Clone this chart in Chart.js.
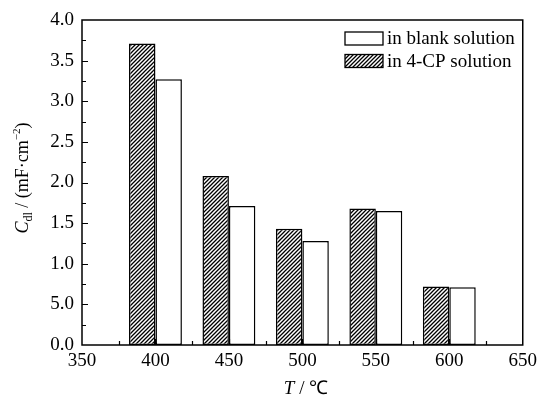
<!DOCTYPE html>
<html>
<head>
<meta charset="utf-8">
<script src="https://cdn.jsdelivr.net/npm/chart.js@4.4.1/dist/chart.umd.min.js"></script>
<style>
html,body{margin:0;padding:0;background:#fff;}
#wrap{width:542px;height:396px;position:relative;}
</style>
</head>
<body>
<div id="wrap"><canvas id="c" width="542" height="396"></canvas></div>
<script>
// ---- data ----
const temperatures = [400, 450, 500, 550, 600];
const cdl4CP   = [3.71, 2.08, 1.43, 1.68, 0.72];   // in 4-CP solution (hatched)
const cdlBlank = [3.27, 1.71, 1.28, 1.65, 0.71];   // in blank solution (white)
const yTickLabels = ['0.0', '5.0', '1.0', '1.5', '2.0', '2.5', '3.0', '3.5', '4.0'];
const seriesLabels = ['in 4-CP solution', 'in blank solution'];

const FONT = "'Liberation Serif', 'Times New Roman', serif";

function makeHatch() {
  const s = 4;
  const c = document.createElement('canvas');
  c.width = s; c.height = s;
  const g = c.getContext('2d');
  g.fillStyle = '#fff'; g.fillRect(0, 0, s, s);
  g.strokeStyle = '#000'; g.lineWidth = 1.3;
  g.beginPath();
  g.moveTo(0, s); g.lineTo(s, 0);
  g.moveTo(-s/2, s/2); g.lineTo(s/2, -s/2);
  g.moveTo(s/2, s*1.5); g.lineTo(s*1.5, s/2);
  g.stroke();
  return g.createPattern(c, 'repeat');
}
const hatch = makeHatch();

const framePlugin = {
  id: 'frame',
  afterDraw(chart) {
    const ctx = chart.ctx;
    const a = chart.chartArea;
    const xs = chart.scales.x, ys = chart.scales.y;
    ctx.save();
    ctx.strokeStyle = '#000';
    ctx.lineWidth = 1.5;
    ctx.strokeRect(a.left, a.top, a.right - a.left, a.bottom - a.top);
    ctx.lineWidth = 1.2;
    ctx.beginPath();
    // y ticks (inward) every 0.25
    for (let v = 0.25; v < 4; v += 0.25) {
      const y = Math.round(ys.getPixelForValue(v)) + 0.5;
      const major = Math.abs(v / 0.5 - Math.round(v / 0.5)) < 1e-6;
      ctx.moveTo(a.left, y); ctx.lineTo(a.left + (major ? 6 : 4), y);
    }
    // x ticks (inward) every 25
    for (let v = 375; v < 650; v += 25) {
      const x = Math.round(xs.getPixelForValue(v)) + 0.5;
      const major = v % 50 === 0;
      ctx.moveTo(x, a.bottom); ctx.lineTo(x, a.bottom - (major ? 6 : 4));
    }
    ctx.stroke();

    // legend (inside, top right)
    ctx.font = '19px ' + FONT;
    ctx.fillStyle = '#000';
    ctx.textBaseline = 'middle';
    ctx.textAlign = 'left';
    const entries = [
      {label: chart.data.datasets[1].label, fill: '#fff'},
      {label: chart.data.datasets[0].label, fill: hatch}
    ];
    entries.forEach((e, i) => {
      const yc = 38.5 + i * 22.5;
      const bx = 345, bw = 38, bh = 13;
      ctx.fillStyle = e.fill;
      ctx.fillRect(bx, yc - bh / 2, bw, bh);
      ctx.lineWidth = 1.3;
      ctx.strokeRect(bx, yc - bh / 2, bw, bh);
      ctx.fillStyle = '#000';
      ctx.fillText(e.label, 387, yc + 1);
    });

    // y-axis title (rotated, with subscript/superscript)
    ctx.save();
    ctx.translate(22, 178);
    ctx.rotate(-Math.PI / 2);
    ctx.textBaseline = 'alphabetic';
    const parts = [
      {t: 'C', f: 'italic 18px ' + FONT, dy: 0},
      {t: 'dl', f: '12px ' + FONT, dy: 4},
      {t: ' / (mF·cm', f: '18px ' + FONT, dy: 0},
      {t: '−2', f: '11px ' + FONT, dy: -8},
      {t: ')', f: '18px ' + FONT, dy: 0}
    ];
    let total = 0;
    parts.forEach(p => { ctx.font = p.f; p.w = ctx.measureText(p.t).width; total += p.w; });
    let x = -total / 2;
    parts.forEach(p => { ctx.font = p.f; ctx.fillText(p.t, x, 6 + p.dy); x += p.w; });
    ctx.restore();

    // x-axis title
    ctx.textBaseline = 'alphabetic';
    const xparts = [
      {t: 'T', f: 'italic 19px ' + FONT},
      {t: ' / ℃', f: '19px ' + FONT}
    ];
    total = 0;
    xparts.forEach(p => { ctx.font = p.f; p.w = ctx.measureText(p.t).width; total += p.w; });
    x = 306 - total / 2;
    xparts.forEach(p => { ctx.font = p.f; ctx.fillText(p.t, x, 394); x += p.w; });
    ctx.restore();
  }
};

Chart.defaults.font.family = FONT;
Chart.defaults.color = '#000';

new Chart(document.getElementById('c'), {
  type: 'bar',
  data: {
    datasets: [
      {
        label: seriesLabels[0],
        data: temperatures.map((t, i) => ({x: t, y: cdl4CP[i]})),
        backgroundColor: hatch,
        borderColor: '#000',
        borderWidth: 1.5,
        borderSkipped: false
      },
      {
        label: seriesLabels[1],
        data: temperatures.map((t, i) => ({x: t, y: cdlBlank[i]})),
        backgroundColor: '#fff',
        borderColor: '#000',
        borderWidth: 1.5,
        borderSkipped: false
      }
    ]
  },
  options: {
    responsive: false,
    animation: false,
    devicePixelRatio: 1,
    categoryPercentage: 0.72,
    barPercentage: 1.0,
    layout: {padding: {left: 0, top: 20, right: 18, bottom: 0}},
    plugins: {legend: {display: false}, tooltip: {enabled: false}},
    scales: {
      x: {
        type: 'linear',
        min: 350, max: 650,
        offset: false,
        grid: {display: false, drawTicks: false},
        border: {display: false},
        ticks: {stepSize: 50, font: {size: 19}, padding: 5, maxRotation: 0},
        afterFit(s) { s.height = 51; }
      },
      y: {
        min: 0, max: 4,
        grid: {display: false, drawTicks: false},
        border: {display: false},
        ticks: {
          stepSize: 0.5,
          font: {size: 19},
          padding: 8,
          callback: (v, i) => yTickLabels[i]
        },
        afterFit(s) { s.width = 82; }
      }
    }
  },
  plugins: [framePlugin]
});
</script>
</body>
</html>
